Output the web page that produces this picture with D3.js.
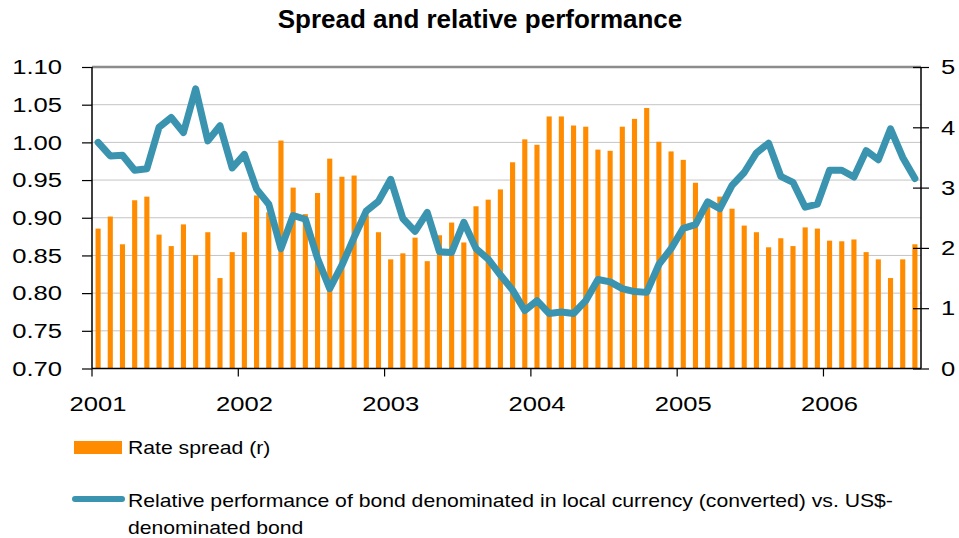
<!DOCTYPE html>
<html>
<head>
<meta charset="utf-8">
<script src="https://cdn.jsdelivr.net/npm/d3@7"></script>
<style>
  html, body { margin: 0; padding: 0; background: #fff; }
  svg { display: block; font-family: Arial, "Liberation Sans", sans-serif; }
</style>
</head>
<body>
<svg id="chart" width="959" height="538"></svg>
<script>
// Monthly observations, January 2001 to August 2006
const months = d3.timeMonth.range(new Date(2001, 0, 1), new Date(2006, 8, 1));

// Rate spread (right axis)
const rateSpread = [
  2.32, 2.52, 2.06, 2.79, 2.85, 2.22, 2.03, 2.39, 1.88, 2.26, 1.50, 1.93,
  2.26, 2.87, 2.59, 3.78, 3.00, 2.56, 2.91, 3.48, 3.18, 3.20, 2.54, 2.26,
  1.81, 1.91, 2.17, 1.78, 2.21, 2.42, 2.09, 2.69, 2.80, 2.97, 3.42, 3.80,
  3.71, 4.18, 4.18, 4.03, 4.01, 3.63, 3.61, 4.01, 4.14, 4.32, 3.76, 3.60,
  3.46, 3.08, 2.78, 2.85, 2.65, 2.37, 2.26, 2.01, 2.16, 2.03, 2.34, 2.32,
  2.12, 2.11, 2.14, 1.93, 1.81, 1.50, 1.81, 2.06
];

// Relative performance, local-currency vs US$-denominated bond (left axis)
const relativePerf = [
  1.000, 0.982, 0.983, 0.963, 0.965, 1.020, 1.033, 1.013, 1.071, 1.002, 1.022, 0.966,
  0.984, 0.938, 0.918, 0.859, 0.903, 0.898, 0.846, 0.806, 0.837, 0.874, 0.909, 0.922,
  0.951, 0.899, 0.882, 0.907, 0.855, 0.854, 0.894, 0.859, 0.845, 0.824, 0.804, 0.777,
  0.790, 0.773, 0.775, 0.773, 0.790, 0.818, 0.815, 0.806, 0.802, 0.801, 0.838, 0.859,
  0.886, 0.891, 0.921, 0.912, 0.943, 0.960, 0.986, 0.999, 0.955, 0.947, 0.914, 0.918,
  0.963, 0.963, 0.954, 0.989, 0.977, 1.018, 0.980, 0.952
];

const leftTicks = [0.70, 0.75, 0.80, 0.85, 0.90, 0.95, 1.00, 1.05, 1.10];
const rightTicks = [0, 1, 2, 3, 4, 5];
const yearStarts = months.filter(d => d.getMonth() === 0);

const title = "Spread and relative performance";
const legendBar = "Rate spread (r)";
const legendLine = [
  "Relative performance of bond denominated in local currency (converted) vs. US$-",
  "denominated bond"
];

const ORANGE = "#ff8c00";
const TEAL = "#3a94b0";
const AXIS_TEXT_STRETCH = 1.22;   // axis labels are set wide
const LEGEND_TEXT_STRETCH = 1.115;

const svg = d3.select("#chart");
const plot = { left: 92, right: 921, top: 67, bottom: 368.5 };

const x = d3.scaleBand()
  .domain(months)
  .range([plot.left, plot.right])
  .paddingInner(0.58)
  .paddingOuter(0.29);
const step = x.step();
const cx = d => x(d) + x.bandwidth() / 2;

const yL = d3.scaleLinear().domain([0.70, 1.10]).range([plot.bottom, plot.top]);
const yR = d3.scaleLinear().domain([0, 5]).range([plot.bottom, plot.top]);

// Title
svg.append("text")
  .attr("x", 480).attr("y", 28)
  .attr("text-anchor", "middle")
  .attr("font-size", 26).attr("font-weight", "bold")
  .attr("fill", "#000")
  .text(title);

// Horizontal gridlines
svg.append("g")
  .selectAll("line")
  .data(leftTicks.slice(1, -1))
  .join("line")
  .attr("x1", plot.left).attr("x2", plot.right)
  .attr("y1", d => yL(d)).attr("y2", d => yL(d))
  .attr("stroke", "#c4c4c4").attr("stroke-width", 1);

// Top frame line
svg.append("line")
  .attr("x1", plot.left).attr("x2", plot.right)
  .attr("y1", plot.top).attr("y2", plot.top)
  .attr("stroke", "#8c8c8c").attr("stroke-width", 2.5);

// Bars: rate spread
svg.append("g")
  .selectAll("rect")
  .data(rateSpread)
  .join("rect")
  .attr("x", (d, i) => x(months[i]))
  .attr("width", x.bandwidth())
  .attr("y", d => yR(d))
  .attr("height", d => yR(0) - yR(d))
  .attr("fill", ORANGE);

// Line: relative performance
const line = d3.line()
  .x((d, i) => cx(months[i]))
  .y(d => yL(d));
svg.append("path")
  .datum(relativePerf)
  .attr("d", line)
  .attr("fill", "none")
  .attr("stroke", TEAL)
  .attr("stroke-width", 7)
  .attr("stroke-linejoin", "round")
  .attr("stroke-linecap", "round");

// Left axis
const axL = svg.append("g")
  .attr("transform", `translate(${plot.left},0)`)
  .call(d3.axisLeft(yL).tickValues(leftTicks).tickFormat(d3.format(".2f")).tickSize(10).tickPadding(20));

// Right axis
const axR = svg.append("g")
  .attr("transform", `translate(${plot.right},0)`)
  .call(d3.axisRight(yR).tickValues(rightTicks).tickFormat(d3.format("d")).tickSize(8).tickPadding(12));
axR.selectAll(".tick line").attr("x1", -8);

// Bottom axis: year labels centred on January, ticks at the year boundary
const axB = svg.append("g")
  .attr("transform", `translate(0,${plot.bottom})`)
  .call(d3.axisBottom(x).tickValues(yearStarts).tickFormat(d3.timeFormat("%Y")).tickSize(8).tickPadding(20));
axB.selectAll(".tick line")
  .attr("x1", -step / 2)
  .attr("x2", -step / 2);

[axL, axR, axB].forEach(g => {
  g.select(".domain").attr("stroke", "#000").attr("stroke-width", 1.5);
  g.selectAll(".tick line").attr("stroke", "#000").attr("stroke-width", 1.2);
  g.selectAll(".tick text")
    .attr("font-size", 21)
    .attr("font-family", "Arial, 'Liberation Sans', sans-serif")
    .attr("fill", "#000")
    .each(function () {
      // widen each label about its anchor point
      const t = d3.select(this);
      const tx = +t.attr("x") || 0;
      const ty = +t.attr("y") || 0;
      t.attr("x", 0).attr("y", 0)
        .attr("transform", `translate(${tx},${ty}) scale(${AXIS_TEXT_STRETCH},1)`);
    });
});
axB.select(".domain").attr("d", `M${plot.left},0H${plot.right}`);
axL.select(".domain").attr("d", `M0,${plot.bottom}V${plot.top}`);
axR.select(".domain").attr("d", `M0,${plot.bottom}V${plot.top}`);

// Legend
const lg = svg.append("g");
lg.append("rect")
  .attr("x", 74).attr("y", 441).attr("width", 48).attr("height", 13)
  .attr("fill", ORANGE);
lg.append("text")
  .attr("transform", `translate(128,454) scale(${LEGEND_TEXT_STRETCH},1)`)
  .attr("font-size", 19).attr("fill", "#000")
  .text(legendBar);

lg.append("line")
  .attr("x1", 75).attr("x2", 122).attr("y1", 499).attr("y2", 499)
  .attr("stroke", TEAL).attr("stroke-width", 6).attr("stroke-linecap", "round");
lg.append("text")
  .attr("transform", `translate(128,507) scale(${LEGEND_TEXT_STRETCH},1)`)
  .attr("font-size", 19).attr("fill", "#000")
  .selectAll("tspan")
  .data(legendLine)
  .join("tspan")
  .attr("x", 0)
  .attr("dy", (d, i) => i === 0 ? 0 : 27)
  .text(d => d);
</script>
</body>
</html>
